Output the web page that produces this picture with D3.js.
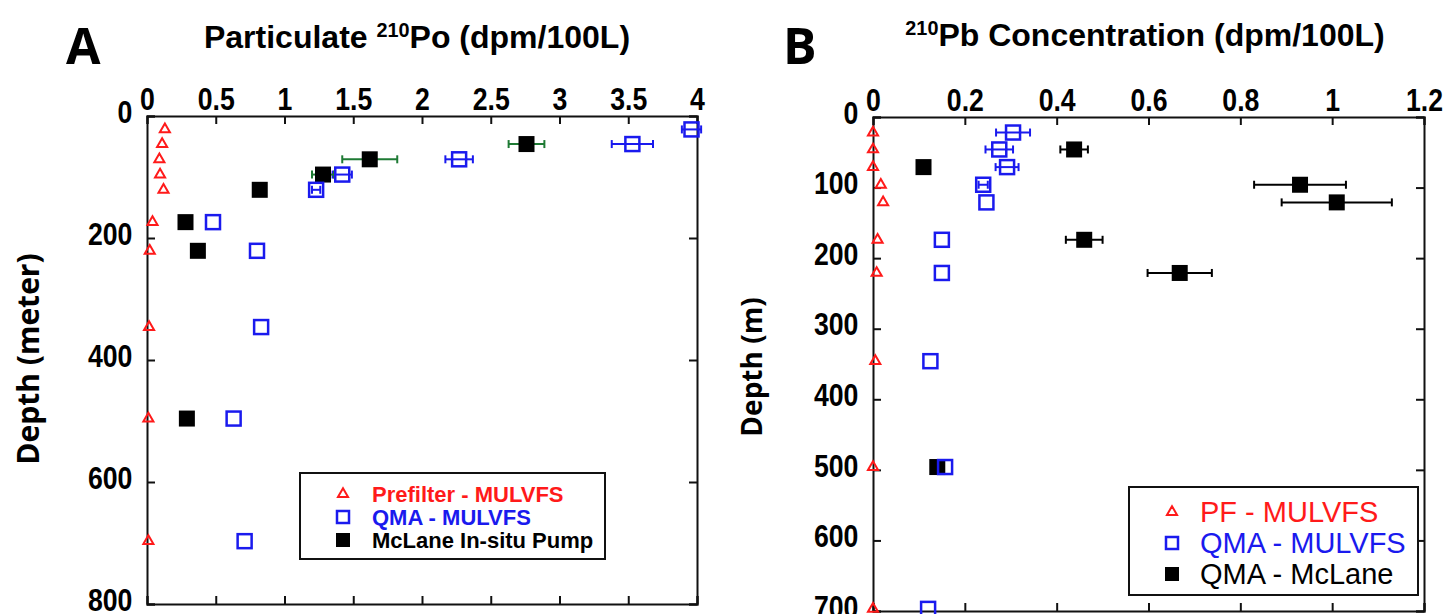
<!DOCTYPE html>
<html>
<head>
<meta charset="utf-8">
<script src="https://cdn.jsdelivr.net/npm/d3@7"></script>
<style>
  body { margin: 0; background: #fff; }
  .tick text { font-family: "Liberation Sans", Arial, sans-serif; font-weight: bold; }
</style>
</head>
<body>
<svg id="chart" width="1445" height="614"></svg>
<script>
/// 210Po / 210Pb depth profiles, two panels ///

// shared sampling depths (m)
const depths = [22, 46, 71, 96, 121, 174, 221, 346, 496, 697];
const mclaneDepths = [46, 71, 96, 121, 174, 221, 496];

// panel A: particulate 210Po (dpm/100L)
const poPrefilter = [0.13, 0.11, 0.09, 0.095, 0.12, 0.04, 0.02, 0.015, 0.01, 0.01];
const poQma = [3.96, 3.53, 2.27, 1.42, 1.23, 0.48, 0.80, 0.83, 0.63, 0.71];
const poQmaErr = [0.07, 0.15, 0.10, 0.07, 0.03, 0, 0, 0, 0, 0];
const poMcLane = [2.76, 1.62, 1.28, 0.82, 0.28, 0.37, 0.29];
const poMcLaneErr = [0.13, 0.20, 0.08, 0.03, 0, 0, 0];

// panel B: 210Pb concentration (dpm/100L)
const pbPf = [0, 0, 0, 0.017, 0.022, 0.01, 0.008, 0.005, 0, 0];
const pbQma = [0.305, 0.275, 0.292, 0.24, 0.247, 0.15, 0.15, 0.125, 0.157, 0.12];
const pbQmaErr = [0.037, 0.03, 0.025, 0.01, 0, 0, 0, 0, 0, 0];
const pbMcLane = [0.438, 0.11, 0.93, 1.01, 0.46, 0.668, 0.14];
const pbMcLaneErr = [0.03, 0.01, 0.10, 0.12, 0.04, 0.07, 0];

// ticks
const poXTicks = [0, 0.5, 1, 1.5, 2, 2.5, 3, 3.5, 4];
const poYTicks = [0, 200, 400, 600, 800];
const pbXTicks = [0, 0.2, 0.4, 0.6, 0.8, 1, 1.2];
const pbYTicks = [0, 100, 200, 300, 400, 500, 600, 700];

const legendA = ["Prefilter - MULVFS", "QMA - MULVFS", "McLane In-situ Pump"];
const legendB = ["PF - MULVFS", "QMA - MULVFS", "QMA - McLane"];

const RED = "#ff1a1a", BLUE = "#1a1aee", GREEN = "#1e7a34", INK = "#111";
const svg = d3.select("#chart");
svg.append("rect").attr("width", 1445).attr("height", 614).attr("fill", "#fff");

function zip(xs, ys, es) {
    return xs.map((v, i) => ({x: v, d: ys[i], e: es ? es[i] : 0}));
}

function drawPanel(p) {
    const x = d3.scaleLinear().domain(p.xDomain).range([p.left, p.right]);
    const y = d3.scaleLinear().domain(p.yDomain).range([p.top, p.bottom]);
    const g = svg.append("g");

    // axes, ticks pointing inward; labels a bit condensed like the original
    g.append("g").attr("transform", `translate(0,${p.top})`)
        .call(d3.axisTop(x).tickValues(p.xTicks).tickSize(-8).tickPadding(6).tickFormat(d3.format("")))
        .call(a => a.selectAll("text").style("font-size", p.tickFont + "px").attr("transform", "scale(0.86,1)"));
    g.append("g").attr("transform", `translate(0,${p.bottom})`)
        .call(d3.axisBottom(x).tickValues(p.xTicks).tickSize(-8).tickFormat(""));
    g.append("g").attr("transform", `translate(${p.left},0)`)
        .call(d3.axisLeft(y).tickValues(p.yTicks).tickSize(-8).tickPadding(17).tickFormat(d3.format("")))
        .call(a => a.selectAll("text").style("font-size", p.tickFont + "px").attr("dy", "0.2em")
            .attr("transform", "scale(0.86,1)"));
    g.append("g").attr("transform", `translate(${p.right},0)`)
        .call(d3.axisRight(y).tickValues(p.yTicks).tickSize(-8).tickFormat(""));
    g.selectAll(".domain").attr("stroke", INK).attr("stroke-width", 2);
    g.selectAll(".tick line").attr("stroke", INK).attr("stroke-width", 2);
    g.selectAll(".tick text").attr("fill", "#000");

    // error bars
    const bars = [].concat(
        zip(p.qma, depths, p.qmaErr).map(d => ({...d, c: BLUE})),
        zip(p.mcl, mclaneDepths, p.mclErr).map(d => ({...d, c: p.mclErrColor}))
    ).filter(d => d.e > 0);
    const eb = g.append("g").selectAll("g").data(bars).join("g")
        .attr("stroke", d => d.c).attr("stroke-width", 2);
    eb.append("line").attr("x1", d => x(d.x - d.e)).attr("x2", d => x(d.x + d.e))
        .attr("y1", d => y(d.d)).attr("y2", d => y(d.d));
    eb.append("line").attr("x1", d => x(d.x - d.e)).attr("x2", d => x(d.x - d.e))
        .attr("y1", d => y(d.d) - 4).attr("y2", d => y(d.d) + 4);
    eb.append("line").attr("x1", d => x(d.x + d.e)).attr("x2", d => x(d.x + d.e))
        .attr("y1", d => y(d.d) - 4).attr("y2", d => y(d.d) + 4);

    // prefilter triangles
    const tri = d3.symbol().type(d3.symbolTriangle).size(44);
    g.append("g").selectAll("path").data(zip(p.pf, depths)).join("path")
        .attr("d", tri).attr("transform", d => `translate(${x(d.x)},${y(d.d)})`)
        .attr("fill", "none").attr("stroke", RED).attr("stroke-width", 2);

    // McLane filled squares
    g.append("g").selectAll("rect").data(zip(p.mcl, mclaneDepths)).join("rect")
        .attr("x", d => x(d.x) - 8).attr("y", d => y(d.d) - 8)
        .attr("width", 16).attr("height", 16).attr("fill", "#000");

    // QMA open squares
    g.append("g").selectAll("rect").data(zip(p.qma, depths)).join("rect")
        .attr("x", d => x(d.x) - 7).attr("y", d => y(d.d) - 7)
        .attr("width", 14).attr("height", 14).attr("fill", "none")
        .attr("stroke", BLUE).attr("stroke-width", 2.5);

    // titles
    const t = svg.append("text").attr("x", p.titleX).attr("y", p.titleY)
        .attr("text-anchor", "middle").attr("font-family", "Liberation Sans, Arial, sans-serif")
        .attr("font-weight", "bold").attr("font-size", p.titleFont);
    p.title.forEach(part => {
        const s = t.append("tspan").text(part.t);
        if (part.sup) s.attr("font-size", p.titleFont * 0.62).attr("baseline-shift", "super");
        else s.attr("baseline-shift", "0");
    });
    svg.append("text").attr("x", p.letterX).attr("y", 64).text(p.letter)
        .attr("font-family", "Open Sans, DejaVu Sans, sans-serif").attr("font-weight", "bold")
        .attr("font-size", 50);
    svg.append("text").attr("transform", `translate(${p.yLabelX},${p.yLabelY}) rotate(-90)`)
        .attr("text-anchor", "middle").text(p.yLabel)
        .attr("font-family", "Open Sans, DejaVu Sans, sans-serif").attr("font-weight", "bold")
        .attr("font-size", p.yLabelFont);

    // legend
    const L = p.legend;
    const lg = svg.append("g");
    lg.append("rect").attr("x", L.x).attr("y", L.y).attr("width", L.w).attr("height", L.h)
        .attr("fill", "#fff").attr("stroke", INK).attr("stroke-width", 2);
    const colors = [RED, BLUE, "#000"];
    L.labels.forEach((lab, i) => {
        const cy = L.y + L.first + i * L.step;
        if (i === 0) lg.append("path").attr("d", tri).attr("transform", `translate(${L.sx},${cy})`)
            .attr("fill", "none").attr("stroke", RED).attr("stroke-width", 2);
        if (i === 1) lg.append("rect").attr("x", L.sx - 6).attr("y", cy - 6).attr("width", 12).attr("height", 12)
            .attr("fill", "none").attr("stroke", BLUE).attr("stroke-width", 2.5);
        if (i === 2) lg.append("rect").attr("x", L.sx - 7).attr("y", cy - 7).attr("width", 14).attr("height", 14)
            .attr("fill", "#000");
        lg.append("text").attr("x", L.tx).attr("y", cy).attr("dy", "0.36em").text(lab)
            .attr("fill", colors[i]).attr("font-family", "Liberation Sans, Arial, sans-serif")
            .attr("font-weight", L.weight).attr("font-size", L.font);
    });
}

drawPanel({
    left: 147, right: 697, top: 116, bottom: 604,
    xDomain: [0, 4], yDomain: [0, 800], xTicks: poXTicks, yTicks: poYTicks, tickFont: 31,
    pf: poPrefilter, qma: poQma, qmaErr: poQmaErr, mcl: poMcLane, mclErr: poMcLaneErr, mclErrColor: GREEN,
    title: [{t: "Particulate "}, {t: "210", sup: true}, {t: "Po (dpm/100L)"}],
    titleX: 417, titleY: 48, titleFont: 32,
    letter: "A", letterX: 66, yLabel: "Depth (meter)", yLabelX: 39, yLabelY: 359, yLabelFont: 30,
    legend: {x: 300, y: 473, w: 305, h: 86, first: 21, step: 23, sx: 343, tx: 372, font: 22, weight: "bold", labels: legendA}
});

drawPanel({
    left: 873, right: 1424, top: 117, bottom: 611,
    xDomain: [0, 1.2], yDomain: [0, 700], xTicks: pbXTicks, yTicks: pbYTicks, tickFont: 31,
    pf: pbPf, qma: pbQma, qmaErr: pbQmaErr, mcl: pbMcLane, mclErr: pbMcLaneErr, mclErrColor: "#000",
    title: [{t: "210", sup: true}, {t: "Pb Concentration (dpm/100L)"}],
    titleX: 1145, titleY: 46, titleFont: 32,
    letter: "B", letterX: 783, yLabel: "Depth (m)", yLabelX: 762, yLabelY: 367, yLabelFont: 28,
    legend: {x: 1129, y: 487, w: 289, h: 108, first: 25, step: 31, sx: 1172, tx: 1200, font: 29, weight: "normal", labels: legendB}
});
</script>
</body>
</html>
